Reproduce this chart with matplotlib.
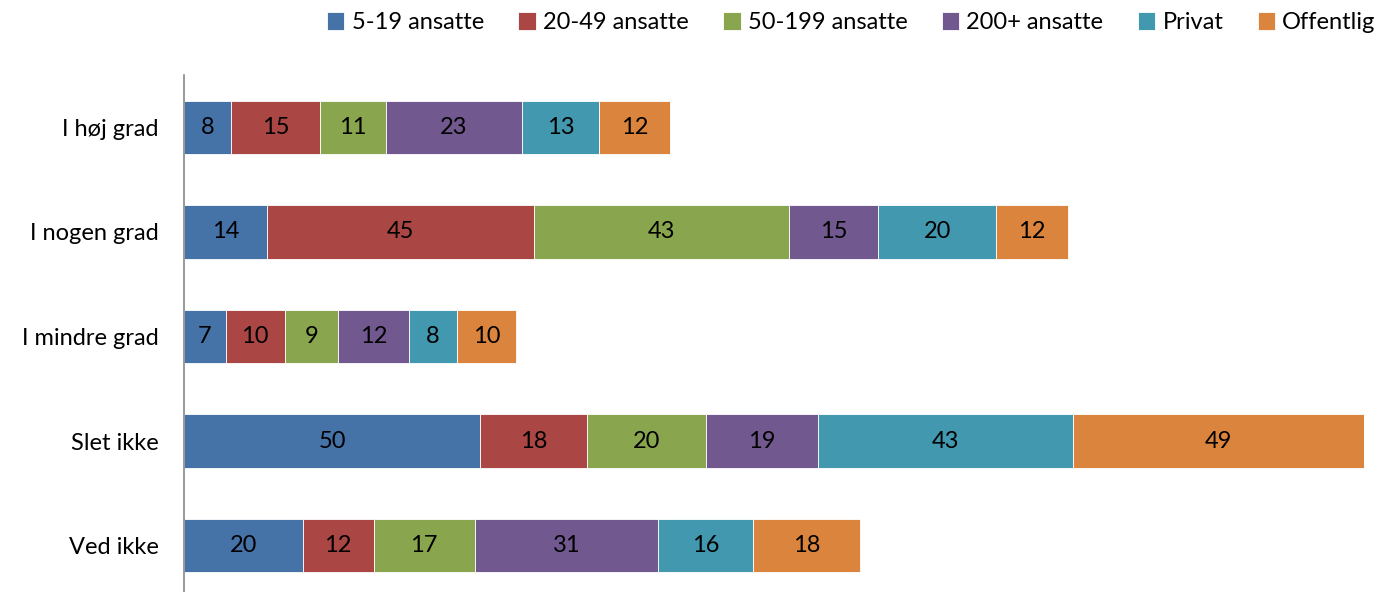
import matplotlib.pyplot as plt
import numpy as np

categories = ["I høj grad", "I nogen grad", "I mindre grad", "Slet ikke", "Ved ikke"]
series = ["5-19 ansatte", "20-49 ansatte", "50-199 ansatte", "200+ ansatte", "Privat", "Offentlig"]
values = {
    "5-19 ansatte":   [8, 14, 7, 50, 20],
    "20-49 ansatte":  [15, 45, 10, 18, 12],
    "50-199 ansatte": [11, 43, 9, 20, 17],
    "200+ ansatte":   [23, 15, 12, 19, 31],
    "Privat":         [13, 20, 8, 43, 16],
    "Offentlig":      [12, 12, 10, 49, 18],
}
colors = ["#4572A7", "#AA4643", "#89A54E", "#71588F", "#4198AF", "#DB843D"]

plt.rcParams['font.family'] = ['Lato', 'DejaVu Sans']

fig = plt.figure(figsize=(13.79, 5.92), dpi=100)
ax = fig.add_axes([184 / 1379, -6 / 592, (1364 - 184) / 1379, (598 - 75) / 592])

y = np.arange(len(categories))
left = np.zeros(len(categories))
handles = []
for name, col in zip(series, colors):
    vals = np.array(values[name], dtype=float)
    bars = ax.barh(y, vals, left=left, height=0.51, color=col,
                   edgecolor="white", linewidth=0.6, label=name)
    for yi, (l, v) in enumerate(zip(left, vals)):
        ax.text(l + v / 2, yi, f"{int(v)}", ha="center", va="center",
                fontsize=17, color="black")
    left += vals
    handles.append(bars)

ax.set_xlim(0, 199)
ax.set_ylim(len(categories) - 0.5, -0.5)
ax.set_yticks(y)
ax.set_yticklabels(categories, fontsize=17)
ax.tick_params(axis="y", length=0, pad=18)
ax.set_xticks([])
for s in ["top", "right", "bottom"]:
    ax.spines[s].set_visible(False)
ax.spines["left"].set_color("#888888")
ax.spines["left"].set_linewidth(1.2)

fig.legend(handles=handles, labels=series, loc="upper right",
           bbox_to_anchor=(1.013, 1.015), ncol=6, frameon=False, fontsize=17,
           handlelength=0.75, handleheight=0.75, handletextpad=0.3,
           columnspacing=1.45)

fig.savefig("out.png", dpi=100)
